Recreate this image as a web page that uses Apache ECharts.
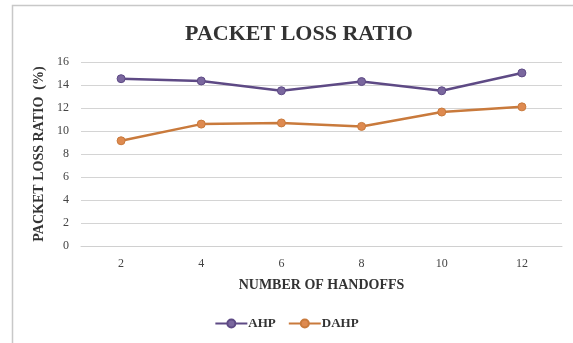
<!DOCTYPE html>
<html>
<head>
<meta charset="utf-8">
<script src="https://cdn.jsdelivr.net/npm/echarts@6/dist/echarts.min.js"></script>
<style>
html,body{margin:0;padding:0;background:#fff;}
#chart{width:573px;height:343px;}
</style>
</head>
<body>
<div id="chart"></div>
<script>
// Packet loss ratio (%) against number of handoffs
const handoffs = ['2', '4', '6', '8', '10', '12'];
const ahp = [14.55, 14.35, 13.5, 14.3, 13.5, 15.05];
const dahp = [9.15, 10.6, 10.7, 10.4, 11.65, 12.1];
const yTicks = [0, 2, 4, 6, 8, 10, 12, 14, 16];

const serif = '"Liberation Serif", "DejaVu Serif", serif';
const purple = '#5e4a85';
const orange = '#c97a3c';

const chart = echarts.init(document.getElementById('chart'));
chart.setOption({
  animation: false,
  backgroundColor: '#fff',
  graphic: [{
    type: 'rect',
    shape: { x: 12.5, y: 5.5, width: 600, height: 400 },
    style: { fill: 'none', stroke: '#c8c8c8', lineWidth: 1.5 },
    silent: true
  }],
  title: {
    text: 'PACKET LOSS RATIO',
    left: 294, top: 18, textAlign: 'center',
    textStyle: { fontFamily: serif, fontWeight: 'bold', fontSize: 22, color: '#333' }
  },
  legend: {
    bottom: 8, left: 'center',
    itemWidth: 32, itemHeight: 10, itemGap: 12,
    data: ['AHP', 'DAHP'],
    textStyle: { fontFamily: serif, fontWeight: 'bold', fontSize: 13, color: '#333', padding: [0, 0, 0, -4] }
  },
  grid: { left: 81, right: 11, top: 62, bottom: 97 },
  xAxis: {
    type: 'category',
    data: handoffs,
    boundaryGap: true,
    name: 'NUMBER OF HANDOFFS',
    nameLocation: 'middle',
    nameGap: 32,
    nameTextStyle: { fontFamily: serif, fontWeight: 'bold', fontSize: 14, color: '#333' },
    axisLine: { lineStyle: { color: '#d0d0d0' } },
    axisTick: { show: false },
    axisLabel: { fontFamily: serif, fontSize: 12, color: '#444', margin: 12 }
  },
  yAxis: {
    type: 'value',
    min: yTicks[0], max: yTicks[yTicks.length - 1], interval: 2,
    name: 'PACKET LOSS RATIO  (%)',
    nameLocation: 'middle',
    nameGap: 30,
    nameTextStyle: { fontFamily: serif, fontWeight: 'bold', fontSize: 14, color: '#333' },
    axisLine: { show: false },
    axisTick: { show: false },
    axisLabel: { fontFamily: serif, fontSize: 12, color: '#444', margin: 12 },
    splitLine: { lineStyle: { color: '#d4d4d4', width: 1.2 } }
  },
  series: [
    {
      name: 'AHP', type: 'line', data: ahp,
      symbol: 'circle', symbolSize: 8,
      lineStyle: { color: purple, width: 2.5 },
      itemStyle: { color: '#7a679e', borderColor: purple, borderWidth: 1 }
    },
    {
      name: 'DAHP', type: 'line', data: dahp,
      symbol: 'circle', symbolSize: 8,
      lineStyle: { color: orange, width: 2.5 },
      itemStyle: { color: '#de8a50', borderColor: orange, borderWidth: 1 }
    }
  ]
});
</script>
</body>
</html>
